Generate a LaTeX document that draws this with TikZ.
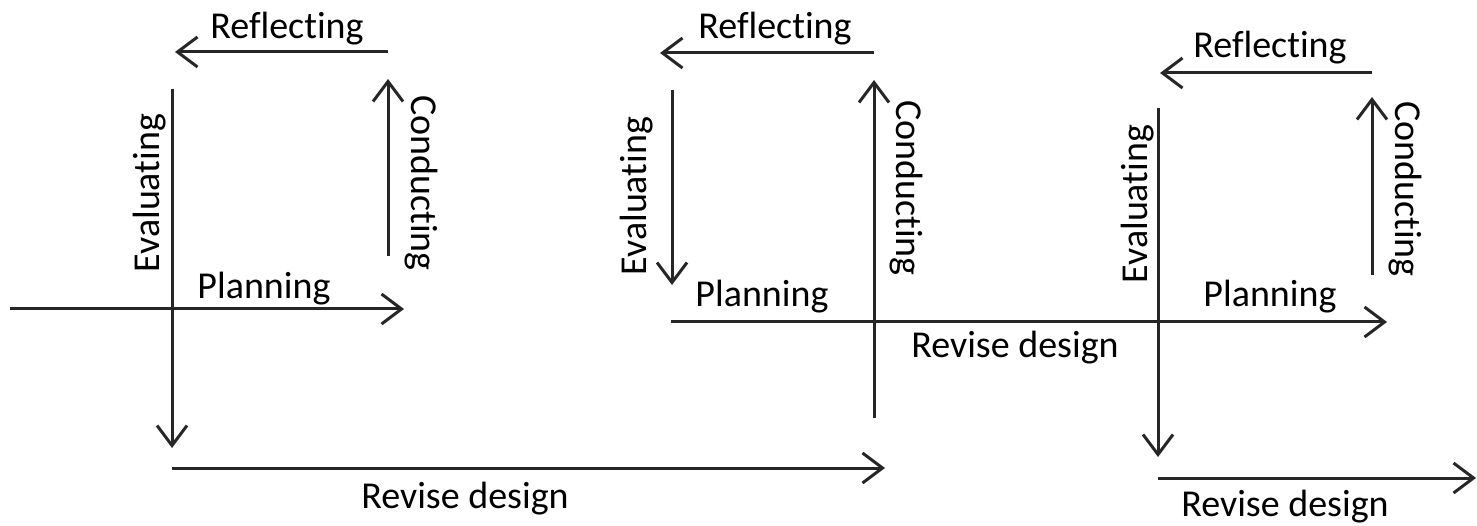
\documentclass[tikz,border=0pt]{standalone}
\usepackage{fontspec}
\setmainfont[Ligatures=NoCommon]{Carlito}
\usepackage{tikz}
\usetikzlibrary{arrows.meta}

\begin{document}
\begin{tikzpicture}[x=1pt,y=-1pt,
	flow/.style={-{Straight Barb[length=20pt,width=30pt]},line width=3pt,black!85},
	lbl/.style={inner sep=0pt,font=\fontsize{38}{44}\selectfont},
	up/.style={lbl,rotate=90},
	down/.style={lbl,rotate=-90}]
	\useasboundingbox (0,0) rectangle (1477,526);

	\coordinate (r1s) at (388,52);   \coordinate (r1e) at (175,52);
	\coordinate (c1s) at (388,256);  \coordinate (c1e) at (388,79);
	\coordinate (e1s) at (172,89);   \coordinate (e1e) at (172,448);
	\coordinate (p1s) at (10,309);   \coordinate (p1e) at (404,309);
	\coordinate (d1s) at (172,468);  \coordinate (d1e) at (885,468);

	\coordinate (r2s) at (874,53);   \coordinate (r2e) at (660,53);
	\coordinate (e2s) at (672,90);   \coordinate (e2e) at (672,285);
	\coordinate (c2s) at (874,418);  \coordinate (c2e) at (874,80);
	\coordinate (p2s) at (671,322);  \coordinate (p2e) at (1387,322);

	\coordinate (r3s) at (1372,73);  \coordinate (r3e) at (1160,73);
	\coordinate (c3s) at (1372,275); \coordinate (c3e) at (1372,97);
	\coordinate (e3s) at (1158,108); \coordinate (e3e) at (1158,457);
	\coordinate (d3s) at (1158,478); \coordinate (d3e) at (1476,478);

	\draw[flow] (r1s) -- (r1e);
	\draw[flow] (c1s) -- (c1e);
	\draw[flow] (e1s) -- (e1e);
	\draw[flow] (p1s) -- (p1e);
	\draw[flow] (d1s) -- (d1e);

	\draw[flow] (r2s) -- (r2e);
	\draw[flow] (e2s) -- (e2e);
	\draw[flow] (c2s) -- (c2e);
	\draw[flow] (p2s) -- (p2e);

	\draw[flow] (r3s) -- (r3e);
	\draw[flow] (c3s) -- (c3e);
	\draw[flow] (e3s) -- (e3e);
	\draw[flow] (d3s) -- (d3e);

	\node[lbl] (refl1) at (287,29) {Reflecting};
	\node[down] (cond1) at (421,183) {Conducting};
	\node[up] (eval1) at (150,193) {Evaluating};
	\node[lbl] (plan1) at (264,289) {Planning};
	\node[lbl] (rev1) at (465,499) {Revise design};

	\node[lbl] (refl2) at (775,29) {Reflecting};
	\node[down] (cond2) at (906,188) {Conducting};
	\node[up] (eval2) at (637,196) {Evaluating};
	\node[lbl] (plan2) at (762,297) {Planning};
	\node[lbl] (rev2) at (1015,348) {Revise design};

	\node[lbl] (refl3) at (1270,48) {Reflecting};
	\node[down] (cond3) at (1405,189) {Conducting};
	\node[up] (eval3) at (1138,204) {Evaluating};
	\node[lbl] (plan3) at (1270,297) {Planning};
	\node[lbl] (rev3) at (1285,507) {Revise design};
\end{tikzpicture}
\end{document}
